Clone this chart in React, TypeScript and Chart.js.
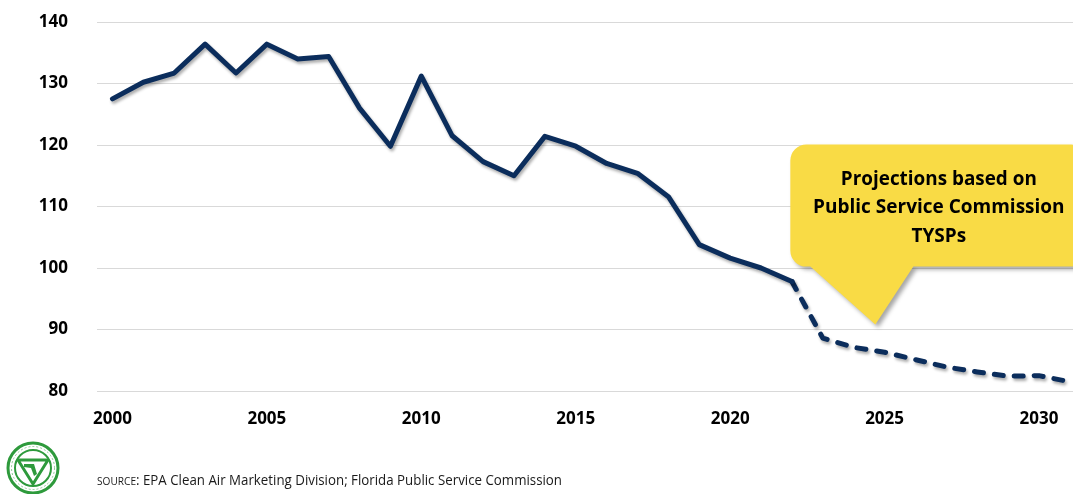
import React, { useEffect, useRef } from "react";
import { Chart, registerables } from "chart.js";

Chart.register(...registerables);

const HIST_YEARS = [2000, 2001, 2002, 2003, 2004, 2005, 2006, 2007, 2008, 2009, 2010, 2011, 2012, 2013, 2014, 2015, 2016, 2017, 2018, 2019, 2020, 2021, 2022];
const HIST_VALUES = [127.5, 130.2, 131.7, 136.4, 131.7, 136.4, 134.0, 134.4, 126.0, 119.8, 131.2, 121.5, 117.3, 115.0, 121.4, 119.8, 117.0, 115.4, 111.6, 103.8, 101.6, 100.0, 97.8];
const PROJ_YEARS = [2022, 2023, 2024, 2025, 2026, 2027, 2028, 2029, 2030, 2031];
const PROJ_VALUES = [97.8, 88.6, 87.1, 86.3, 85.1, 83.9, 83.1, 82.4, 82.5, 81.5];
const X_TICKS = [2000, 2005, 2010, 2015, 2020, 2025, 2030];
const Y_MIN = 80;
const Y_MAX = 140;
const Y_STEP = 10;
const X_MIN = 1999.5;
const X_MAX = 2031.1;
const CALLOUT_LINES = ["Projections based on", "Public Service Commission", "TYSPs"];
const CALLOUT_TIP = { year: 2024.7, value: 90.8 };
const SOURCE_LABEL = "SOURCE";
const SOURCE_TEXT = ": EPA Clean Air Marketing Division; Florida Public Service Commission";

const NAVY = "#0B2D5C";
const YELLOW = "#F9DB45";
const GREEN = "#2E9A3C";
const FONT = "'Open Sans', 'DejaVu Sans', sans-serif";

const shadowPlugin = {
  id: "lineShadow",
  beforeDatasetDraw(chart: any) {
    const ctx = chart.ctx;
    ctx.save();
    ctx.shadowColor = "rgba(0,0,0,0.32)";
    ctx.shadowBlur = 3;
    ctx.shadowOffsetX = 1.5;
    ctx.shadowOffsetY = 2.5;
  },
  afterDatasetDraw(chart: any) {
    chart.ctx.restore();
  },
};

const decorPlugin = {
  id: "decor",
  afterDraw(chart: any) {
    const ctx = chart.ctx;
    const xs = chart.scales.x;
    const ys = chart.scales.y;
    const tx = xs.getPixelForValue(CALLOUT_TIP.year);
    const ty = ys.getPixelForValue(CALLOUT_TIP.value);
    const left = tx - 85;
    const right = tx + 212;
    const top = ty - 180;
    const bottom = ty - 58;
    const r = 16;

    // callout
    ctx.save();
    ctx.beginPath();
    ctx.moveTo(left + r, top);
    ctx.lineTo(right - r, top);
    ctx.arcTo(right, top, right, top + r, r);
    ctx.lineTo(right, bottom - r);
    ctx.arcTo(right, bottom, right - r, bottom, r);
    ctx.lineTo(tx + 38, bottom);
    ctx.lineTo(tx, ty);
    ctx.lineTo(tx - 65, bottom);
    ctx.lineTo(left + r, bottom);
    ctx.arcTo(left, bottom, left, bottom - r, r);
    ctx.lineTo(left, top + r);
    ctx.arcTo(left, top, left + r, top, r);
    ctx.closePath();
    ctx.shadowColor = "rgba(0,0,0,0.35)";
    ctx.shadowBlur = 4;
    ctx.shadowOffsetX = 3;
    ctx.shadowOffsetY = 3;
    ctx.fillStyle = YELLOW;
    ctx.fill();
    ctx.restore();

    ctx.save();
    ctx.fillStyle = "#000";
    ctx.font = `bold 19px ${FONT}`;
    ctx.textAlign = "center";
    ctx.textBaseline = "middle";
    const cx = (left + right) / 2;
    const widths = [196, 256, 64];
    CALLOUT_LINES.forEach((line, i) => {
      ctx.fillText(line, cx, top + 35 + i * 28.5, widths[i]);
    });
    ctx.restore();

    // source line
    ctx.save();
    ctx.fillStyle = "#1a1a1a";
    ctx.textAlign = "left";
    ctx.textBaseline = "alphabetic";
    ctx.font = `10.5px ${FONT}`;
    ctx.fillText(SOURCE_LABEL, 97, 485, 39);
    ctx.font = `14.5px ${FONT}`;
    ctx.fillText(SOURCE_TEXT, 136, 485, 426);
    ctx.restore();

    // logo
    ctx.save();
    const lx = 33, ly = 468;
    ctx.strokeStyle = GREEN;
    ctx.lineWidth = 3;
    ctx.beginPath();
    ctx.arc(lx, ly, 25, 0, Math.PI * 2);
    ctx.stroke();
    ctx.lineWidth = 2;
    ctx.beginPath();
    ctx.arc(lx, ly, 18, 0, Math.PI * 2);
    ctx.stroke();
    ctx.lineWidth = 1;
    ctx.strokeStyle = "#8CCB93";
    ctx.setLineDash([2, 2]);
    ctx.beginPath();
    ctx.arc(lx, ly, 21.5, 0, Math.PI * 2);
    ctx.stroke();
    ctx.setLineDash([]);
    ctx.lineWidth = 3;
    ctx.strokeStyle = GREEN;
    ctx.lineJoin = "round";
    ctx.beginPath();
    ctx.moveTo(lx - 15, ly - 8);
    ctx.lineTo(lx + 15, ly - 8);
    ctx.lineTo(lx, ly + 16);
    ctx.closePath();
    ctx.stroke();
    ctx.fillStyle = GREEN;
    ctx.beginPath();
    ctx.moveTo(lx - 9, ly - 4);
    ctx.lineTo(lx + 1, ly - 4);
    ctx.lineTo(lx + 4, ly + 6);
    ctx.lineTo(lx + 1, ly + 8);
    ctx.lineTo(lx - 2, ly);
    ctx.lineTo(lx - 9, ly - 1);
    ctx.closePath();
    ctx.fill();
    ctx.restore();
  },
};

export default function App() {
  const ref = useRef<HTMLCanvasElement | null>(null);

  useEffect(() => {
    if (!ref.current) return;
    const hist = HIST_YEARS.map((y, i) => ({ x: y, y: HIST_VALUES[i] }));
    const proj = PROJ_YEARS.map((y, i) => ({ x: y, y: PROJ_VALUES[i] }));
    const chart = new Chart(ref.current, {
      type: "line",
      data: {
        datasets: [
          {
            label: "Historical",
            data: hist,
            borderColor: NAVY,
            borderWidth: 5,
            pointRadius: 0,
            borderJoinStyle: "round",
            borderCapStyle: "round",
            tension: 0,
            clip: false,
          },
          {
            label: "Projected",
            data: proj,
            borderColor: NAVY,
            borderWidth: 5,
            pointRadius: 0,
            borderDash: [9, 11],
            borderJoinStyle: "round",
            borderCapStyle: "round",
            tension: 0,
            clip: false,
          },
        ],
      },
      options: {
        responsive: false,
        animation: false,
        events: [],
        layout: { padding: { left: 0, right: 0, top: 22, bottom: 58 } },
        plugins: { legend: { display: false }, tooltip: { enabled: false }, title: { display: false } },
        scales: {
          x: {
            type: "linear",
            min: X_MIN,
            max: X_MAX,
            afterBuildTicks: (scale: any) => {
              scale.ticks = X_TICKS.map((v) => ({ value: v }));
            },
            afterFit: (scale: any) => {
              scale.height = 45;
              scale.paddingLeft = 0;
              scale.paddingRight = 0;
            },
            grid: { display: false, drawTicks: false },
            border: { display: false },
            ticks: {
              padding: 18,
              color: "#000",
              font: { family: FONT, size: 17, weight: "bold" },
              maxRotation: 0,
              autoSkip: false,
              callback: (v: any) => String(v),
            },
          },
          y: {
            min: Y_MIN,
            max: Y_MAX,
            afterFit: (scale: any) => {
              scale.width = 97;
              scale.paddingTop = 0;
              scale.paddingBottom = 0;
            },
            grid: { color: "#D9D9D9", lineWidth: 1, drawTicks: false },
            border: { display: false },
            ticks: {
              stepSize: Y_STEP,
              padding: 29,
              color: "#000",
              font: { family: FONT, size: 17, weight: "bold" },
            },
          },
        },
      },
      plugins: [shadowPlugin, decorPlugin],
    } as any);
    return () => chart.destroy();
  }, []);

  return (
    <div style={{ position: "absolute", left: 0, top: 0, width: 1073, height: 494, background: "#fff" }}>
      <canvas ref={ref} width={1073} height={494} />
    </div>
  );
}
